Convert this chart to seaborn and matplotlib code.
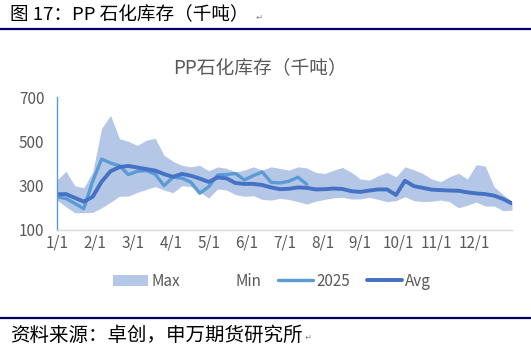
import numpy as np
import pandas as pd
import matplotlib
matplotlib.use("Agg")
import matplotlib.pyplot as plt
import seaborn as sns
from matplotlib.patches import Patch
from matplotlib.lines import Line2D

# ---- data (weekly, thousand tonnes) ----
week = list(range(52))
max_vals = [325, 365, 300, 290, 362, 559, 617, 512, 500, 482, 505, 514, 437, 410, 392, 385,
            392, 367, 385, 378, 362, 370, 385, 370, 385, 378, 370, 385, 380, 360, 355, 370,
            382, 360, 330, 325, 345, 360, 340, 385, 372, 355, 330, 318, 340, 356, 330, 395,
            388, 295, 260, 228]
min_vals = [235, 205, 178, 178, 180, 200, 225, 252, 253, 270, 283, 296, 280, 268, 300, 296,
            272, 244, 285, 280, 260, 252, 255, 238, 235, 243, 238, 228, 217, 230, 238, 245,
            248, 240, 240, 248, 238, 228, 232, 250, 232, 228, 230, 235, 228, 200, 212, 226,
            208, 208, 187, 190]
y2025 = [250, 242, 220, 196, 320, 420, 402, 390, 350, 365, 368, 352, 300, 338, 334, 316,
         266, 295, 348, 350, 355, 326, 345, 362, 315, 312, 320, 338, 306]
avg_vals = [261, 262, 245, 228, 250, 318, 365, 384, 389, 382, 375, 368, 352, 340, 353, 345,
            332, 317, 337, 333, 312, 308, 308, 303, 292, 284, 286, 292, 290, 283, 284, 287,
            285, 275, 272, 278, 283, 283, 258, 322, 298, 290, 282, 280, 278, 277, 270, 265,
            262, 255, 240, 220]
month_labels = ["1/1", "2/1", "3/1", "4/1", "5/1", "6/1", "7/1", "8/1", "9/1", "10/1", "11/1", "12/1"]
y_ticks = [100, 300, 500, 700]

sns.set_theme(style="white")
plt.rcParams['font.family'] = ['Noto Sans CJK SC', 'DejaVu Sans']

c_band = "#B4C7E7"
c_2025 = "#5B9BD5"
c_avg = "#4472C4"
c_text = "#595959"
navy = "#000066"

fig = plt.figure(figsize=(5.31, 3.55), dpi=100)
ax = fig.add_axes([57/531, 1 - 230/355, (512 - 57)/531, (230 - 97)/355])

df_band = pd.DataFrame({"week": week, "max": max_vals, "min": min_vals, "avg": avg_vals})
df25 = pd.DataFrame({"week": week[:len(y2025)], "v": y2025})

ax.fill_between(df_band["week"], df_band["min"], df_band["max"], color=c_band, lw=0)
sns.lineplot(data=df25, x="week", y="v", ax=ax, color=c_2025, lw=2.4)
sns.lineplot(data=df_band, x="week", y="avg", ax=ax, color=c_avg, lw=2.8)

ax.set_xlim(0, 51)
ax.set_ylim(100, 700)
ax.set_yticks(y_ticks)
ax.set_yticklabels([str(v) for v in y_ticks])
ax.set_xticks([m * 51 / 12 for m in range(12)])
ax.set_xticklabels(month_labels)
ax.set_xlabel("")
ax.set_ylabel("")
ax.tick_params(axis="both", length=0, labelsize=11, colors=c_text)
ax.tick_params(axis="y", pad=9)
ax.tick_params(axis="x", pad=3)
for s in ["top", "right"]:
    ax.spines[s].set_visible(False)
ax.spines["left"].set_color("#5B9BD5")
ax.spines["left"].set_linewidth(1.0)
ax.spines["bottom"].set_color("#D9D9D9")
ax.spines["bottom"].set_linewidth(1.0)

# titles
fig.text(10/531, 1 - 15/355, "图 17：PP 石化库存（千吨）", fontsize=13.4, color="black",
         va="center", ha="left", fontweight="medium")
fig.text(256/531, 1 - 17/355, "↵", fontsize=6, color="#888888", va="center", ha="left",
         family=['DejaVu Sans'])
fig.add_artist(Line2D([0, 1], [1 - 29/355, 1 - 29/355], color=navy, lw=1.6))
fig.text(260/531, 1 - 68/355, "PP石化库存（千吨）", fontsize=13.5, color=c_text, ha="center", va="center")

# legend
handles = [Patch(facecolor=c_band, edgecolor="none"),
           Patch(facecolor="none", edgecolor="none"),
           Line2D([0], [0], color=c_2025, lw=2.4),
           Line2D([0], [0], color=c_avg, lw=2.8)]
fig.legend(handles, ["Max", "Min", "2025", "Avg"], loc="center", ncol=4,
           bbox_to_anchor=(272/531, 1 - 281/355), frameon=False, fontsize=11,
           labelcolor=c_text, handlelength=2.3, handletextpad=0.2, columnspacing=1.1)

# source
fig.add_artist(Line2D([0, 1], [1 - 318/355, 1 - 318/355], color=navy, lw=1.6))
fig.text(10/531, 1 - 335/355, "资料来源：卓创，申万期货研究所", fontsize=14, color="black",
         va="center", ha="left", fontweight="medium")
fig.text(305/531, 1 - 337/355, "↵", fontsize=6, color="#888888", va="center", ha="left",
         family=['DejaVu Sans'])

fig.savefig("out.png", dpi=100)
